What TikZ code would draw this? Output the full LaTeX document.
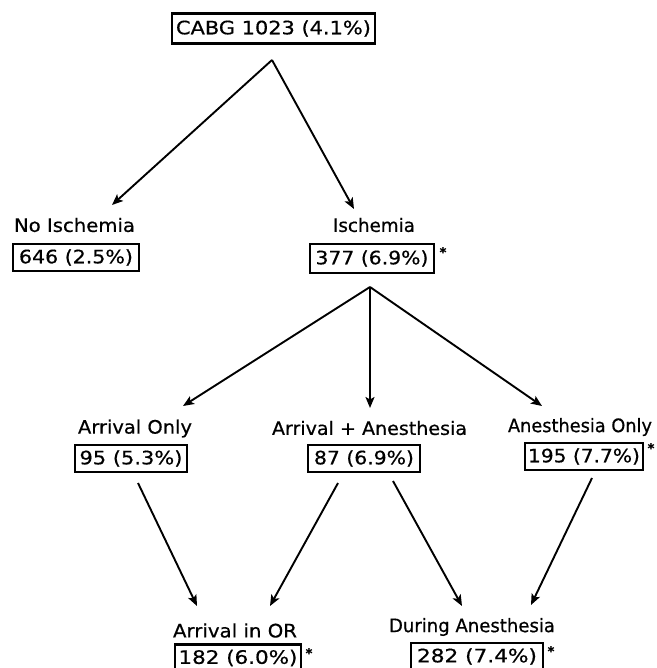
\documentclass[tikz,border=0pt]{standalone}
\usepackage{fontspec}
\usepackage{graphicx}
\setmainfont{DejaVu Sans}[FakeBold=0.6]
\usetikzlibrary{arrows.meta}
\newcommand{\fitw}[2]{\resizebox{#1}{\height}{#2}}
\begin{document}
\begin{tikzpicture}[x=1pt,y=-1pt,
  lbl/.style={font=\fontsize{18.5}{20}\selectfont, inner sep=0pt},
  cbox/.style={draw, line width=2.2pt, font=\fontsize{18.5}{20}\selectfont, inner sep=0pt, minimum height=27pt},
  star/.style={font=\bfseries\fontsize{13}{13}\selectfont, inner sep=0pt},
  arr/.style={line width=1.9pt, -{Stealth[length=11pt,width=9pt,inset=2.5pt]}}]
\useasboundingbox (0,0) rectangle (656,668);
% top
\node[cbox, minimum width=203pt, minimum height=30pt] (top) at (273.5,28.5) {\fitw{195pt}{CABG 1023 (4.1\%)}};
% second row
\node[lbl] (nol) at (74.5,225) {\fitw{121pt}{No Ischemia}};
\node[cbox, minimum width=126pt] (nob) at (76,257.5) {\fitw{114pt}{646 (2.5\%)}};
\node[lbl] (isl) at (374,225) {\fitw{82pt}{Ischemia}};
\node[cbox, minimum width=124pt, minimum height=29pt] (isb) at (372,258.5) {\fitw{113pt}{377 (6.9\%)}};
\node[star] (iss) at (443,252) {*};
% third row
\node[lbl] (aol) at (135,428.5) {\fitw{114pt}{Arrival Only}};
\node[cbox, minimum width=112pt] (aob) at (131,458.5) {\fitw{103pt}{95 (5.3\%)}};
\node[lbl] (aal) at (369.5,428) {\fitw{195pt}{Arrival + Anesthesia}};
\node[cbox, minimum width=112pt] (aab) at (364,458.5) {\fitw{100pt}{87 (6.9\%)}};
\node[lbl] (anl) at (580,427) {\fitw{144pt}{Anesthesia Only}};
\node[cbox, minimum width=118pt] (anb) at (584,456.5) {\fitw{112pt}{195 (7.7\%)}};
\node[star] (ans) at (651,448) {*};
% bottom row
\node[lbl] (orl) at (235,630.5) {\fitw{124pt}{Arrival in OR}};
\node[cbox, minimum width=126pt] (orb) at (238,658) {\fitw{119pt}{182 (6.0\%)}};
\node[star] (ors) at (309,653) {*};
\node[lbl] (dal) at (472,627) {\fitw{166pt}{During Anesthesia}};
\node[cbox, minimum width=132pt] (dab) at (477,656.5) {\fitw{120pt}{282 (7.4\%)}};
\node[star] (das) at (551,651) {*};
% connector points
\coordinate (tap) at (272,60);
\coordinate (tnl) at (112,205);
\coordinate (tis) at (354,209);
\coordinate (iap) at (370,287);
\coordinate (tao) at (183,406);
\coordinate (taa) at (370,408);
\coordinate (tan) at (542,406);
\coordinate (s1) at (138,483);
\coordinate (e1) at (197,606);
\coordinate (s2) at (338,483);
\coordinate (e2) at (270,606);
\coordinate (s3) at (393,481);
\coordinate (e3) at (462,606);
\coordinate (s4) at (592,478);
\coordinate (e4) at (531,605);
% connectors
\draw[arr] (tap) -- (tnl);
\draw[arr] (tap) -- (tis);
\draw[arr] (iap) -- (tao);
\draw[arr] (iap) -- (taa);
\draw[arr] (iap) -- (tan);
\draw[arr] (s1) -- (e1);
\draw[arr] (s2) -- (e2);
\draw[arr] (s3) -- (e3);
\draw[arr] (s4) -- (e4);
\end{tikzpicture}
\end{document}
